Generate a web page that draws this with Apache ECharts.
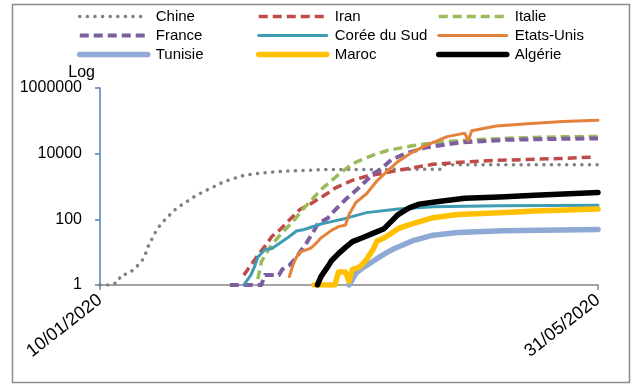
<!DOCTYPE html>
<html>
<head>
<meta charset="utf-8">
<script src="https://cdn.jsdelivr.net/npm/echarts@6/dist/echarts.min.js"></script>
<style>
  body { margin: 0; background: #fff; }
  #chart { width: 638px; height: 389px; }
</style>
</head>
<body>
<div id="chart"></div>
<script>
// cumulative values per country, [date, value]
const chine = [['2020-01-10',1],['2020-01-13',1],['2020-01-15',1.2],['2020-01-16',2],['2020-01-18',2.2],['2020-01-20',3.2],['2020-01-21',4.2],['2020-01-22',5.5],['2020-01-23',9],['2020-01-24',18],['2020-01-25',27],['2020-01-26',45],['2020-01-27',63],['2020-01-28',85],['2020-01-29',110],['2020-01-30',140],['2020-01-31',182],['2020-02-02',263],['2020-02-04',360],['2020-02-06',500],['2020-02-08',650],['2020-02-10',830],['2020-02-12',1050],['2020-02-14',1350],['2020-02-16',1620],['2020-02-18',1860],['2020-02-20',2190],['2020-02-23',2400],['2020-02-25',2570],['2020-02-27',2690],['2020-03-01',2820],['2020-03-03',2950],['2020-03-15',3300],['2020-04-16',3340],['2020-04-17',4630],['2020-05-31',4634]]
const iran = [['2020-02-20',2],['2020-02-22',4],['2020-02-24',8],['2020-02-26',15],['2020-02-28',30],['2020-03-01',45],['2020-03-04',95],['2020-03-07',200],['2020-03-10',295],['2020-03-12',400],['2020-03-15',630],['2020-03-17',890],['2020-03-22',1550],['2020-03-26',2050],['2020-04-04',3100],['2020-04-14',4750],['2020-04-23',5600],['2020-05-03',6300],['2020-05-20',7100],['2020-05-30',7900]]
const italie = [['2020-02-24',1.5],['2020-02-25',5],['2020-02-26',8],['2020-02-28',17],['2020-03-02',40],['2020-03-05',85],['2020-03-08',210],['2020-03-10',360],['2020-03-13',800],['2020-03-18',2300],['2020-03-22',5000],['2020-03-25',6800],['2020-03-29',10000],['2020-04-01',12500],['2020-04-08',17500],['2020-04-12',20000],['2020-04-18',23500],['2020-04-24',26000],['2020-05-07',30000],['2020-05-20',32500],['2020-05-31',33500]]
const france = [['2020-02-16',1],['2020-02-25',1],['2020-02-26',2],['2020-03-01',2],['2020-03-02',3],['2020-03-04',4],['2020-03-06',7],['2020-03-07',10],['2020-03-09',20],['2020-03-11',45],['2020-03-12',70],['2020-03-14',95],['2020-03-15',110],['2020-03-17',190],['2020-03-20',400],['2020-03-24',950],['2020-03-28',2500],['2020-03-30',3300],['2020-04-02',6500],['2020-04-06',10000],['2020-04-12',15500],['2020-04-22',22000],['2020-05-05',26500],['2020-05-20',28300],['2020-05-31',29000]]
const coree = [['2020-02-20',1],['2020-02-22',2],['2020-02-23',3.5],['2020-02-24',7],['2020-02-26',12],['2020-02-28',13],['2020-03-01',18],['2020-03-04',30],['2020-03-06',44],['2020-03-08',48],['2020-03-13',72],['2020-03-16',85],['2020-03-19',100],['2020-03-26',160],['2020-04-04',205],['2020-04-14',240],['2020-05-03',257],['2020-05-31',270]]
const etatsUnis = [['2020-03-04',1.8],['2020-03-05',4],['2020-03-06',7],['2020-03-07',10],['2020-03-10',13],['2020-03-11',16],['2020-03-13',27],['2020-03-16',46],['2020-03-18',60],['2020-03-20',67],['2020-03-21',140],['2020-03-23',330],['2020-03-26',600],['2020-03-29',1500],['2020-04-01',3000],['2020-04-04',5800],['2020-04-08',11000],['2020-04-12',18000],['2020-04-18',33000],['2020-04-22',40000],['2020-04-23',42000],['2020-04-24',25000],['2020-04-25',50000],['2020-05-02',70000],['2020-05-11',82000],['2020-05-21',95000],['2020-05-31',105000]]
const tunisie = [['2020-03-21',1],['2020-03-22',1.5],['2020-03-23',2.3],['2020-03-25',3.4],['2020-03-27',4.6],['2020-03-30',7.5],['2020-04-01',10],['2020-04-03',13],['2020-04-05',16],['2020-04-08',22],['2020-04-14',33],['2020-04-21',40],['2020-05-04',45],['2020-05-31',49]]
const maroc = [['2020-03-11',1],['2020-03-17',1],['2020-03-18',2.5],['2020-03-20',2.5],['2020-03-21',1.3],['2020-03-22',3],['2020-03-24',3.5],['2020-03-25',4.5],['2020-03-26',6],['2020-03-28',13],['2020-03-29',22],['2020-03-31',27],['2020-04-02',37],['2020-04-04',52],['2020-04-07',68],['2020-04-14',112],['2020-04-21',140],['2020-05-03',160],['2020-05-13',180],['2020-05-31',205]]
const algerie = [['2020-03-12',1],['2020-03-13',1.8],['2020-03-15',3.7],['2020-03-16',5.5],['2020-03-18',9],['2020-03-20',14],['2020-03-22',21],['2020-03-25',28],['2020-03-28',38],['2020-03-31',52],['2020-04-02',85],['2020-04-04',140],['2020-04-07',220],['2020-04-10',290],['2020-04-15',345],['2020-04-23',440],['2020-05-03',480],['2020-05-13',545],['2020-05-31',660]]

const startDate = '2020-01-10'
const endDate = '2020-05-31'
const yTicks = [1, 100, 10000, 1000000]

const DAY = 86400000
const t0 = Date.parse(startDate)
const toDay = (s) => Math.round((Date.parse(s) - t0) / DAY)
const toPoints = (arr) => arr.map(p => [toDay(p[0]), p[1]])
const fmtDate = (d) => {
  const dt = new Date(t0 + d * DAY)
  const dd = String(dt.getUTCDate()).padStart(2, '0')
  const mm = String(dt.getUTCMonth() + 1).padStart(2, '0')
  return dd + '/' + mm + '/' + dt.getUTCFullYear()
}

const font = 'Liberation Sans'

function line(name, data, color, width, type, cap) {
  return {
    name: name,
    type: 'line',
    data: toPoints(data),
    symbol: 'none',
    lineStyle: { color: color, width: width, type: type, cap: cap || 'butt', join: 'round' },
    itemStyle: { color: color }
  }
}

const series = [
  line('Chine', chine, '#808080', 3.5, [0.1, 7.5], 'round'),
  line('Iran', iran, '#be4b48', 3.5, [9, 5]),
  line('Italie', italie, '#9bbb59', 3.5, [9, 5]),
  line('France', france, '#7d5fa0', 4, [9, 5]),
  line('Corée du Sud', coree, '#3f9ab3', 3, 'solid', 'round'),
  line('Etats-Unis', etatsUnis, '#e4823a', 3, 'solid', 'round'),
  line('Tunisie', tunisie, '#8eaad4', 5.5, 'solid', 'round'),
  line('Maroc', maroc, '#ffc000', 5.5, 'solid', 'round'),
  line('Algérie', algerie, '#000000', 5.5, 'solid', 'round')
]

function legendCol(left, names) {
  return {
    orient: 'vertical',
    left: left,
    top: 4,
    itemWidth: 68,
    itemHeight: 14,
    itemGap: 4,
    data: names,
    itemStyle: { opacity: 0 },
    lineStyle: { width: 'inherit' },
    textStyle: { fontFamily: font, fontSize: 15, color: '#000', lineHeight: 14, padding: [0, 0, 0, 3] }
  }
}

const chart = echarts.init(document.getElementById('chart'))
chart.setOption({
  animation: false,
  backgroundColor: '#fff',
  graphic: [{
    type: 'rect',
    shape: { x: 12.5, y: 4.5, width: 617, height: 378 },
    style: { fill: 'none', stroke: '#8c8c8c', lineWidth: 1.5 },
    silent: true
  }],
  legend: [
    legendCol(72, ['Chine', 'France', 'Tunisie']),
    legendCol(251, ['Iran', 'Corée du Sud', 'Maroc']),
    legendCol(431, ['Italie', 'Etats-Unis', 'Algérie'])
  ],
  grid: { left: 100, right: 40, top: 88, bottom: 104 },
  xAxis: {
    type: 'value',
    min: 0,
    max: toDay(endDate),
    interval: toDay(endDate),
    splitLine: { show: false },
    axisLine: { lineStyle: { color: '#868686', width: 1.5 } },
    axisTick: { show: true, length: 5, lineStyle: { color: '#868686', width: 1.5 } },
    axisLabel: {
      rotate: 38,
      margin: 13,
      showMinLabel: true,
      showMaxLabel: true,
      fontFamily: font,
      fontSize: 18,
      color: '#000',
      formatter: (v) => fmtDate(v)
    }
  },
  yAxis: {
    type: 'log',
    logBase: 100,
    min: yTicks[0],
    max: yTicks[yTicks.length - 1],
    name: 'Log',
    nameLocation: 'end',
    nameGap: 4,
    nameTextStyle: { fontFamily: font, fontSize: 16, color: '#000', align: 'right', verticalAlign: 'bottom', padding: [0, 5, 0, 0] },
    splitLine: { show: false },
    axisLine: { show: true, lineStyle: { color: '#4f81bd', width: 1.5 } },
    axisTick: { show: true, length: 5, lineStyle: { color: '#4f81bd', width: 1.5 } },
    axisLabel: {
      margin: 18,
      fontFamily: font,
      fontSize: 16,
      color: '#000',
      formatter: (v) => String(Math.round(v))
    }
  },
  series: series
})
</script>
</body>
</html>
